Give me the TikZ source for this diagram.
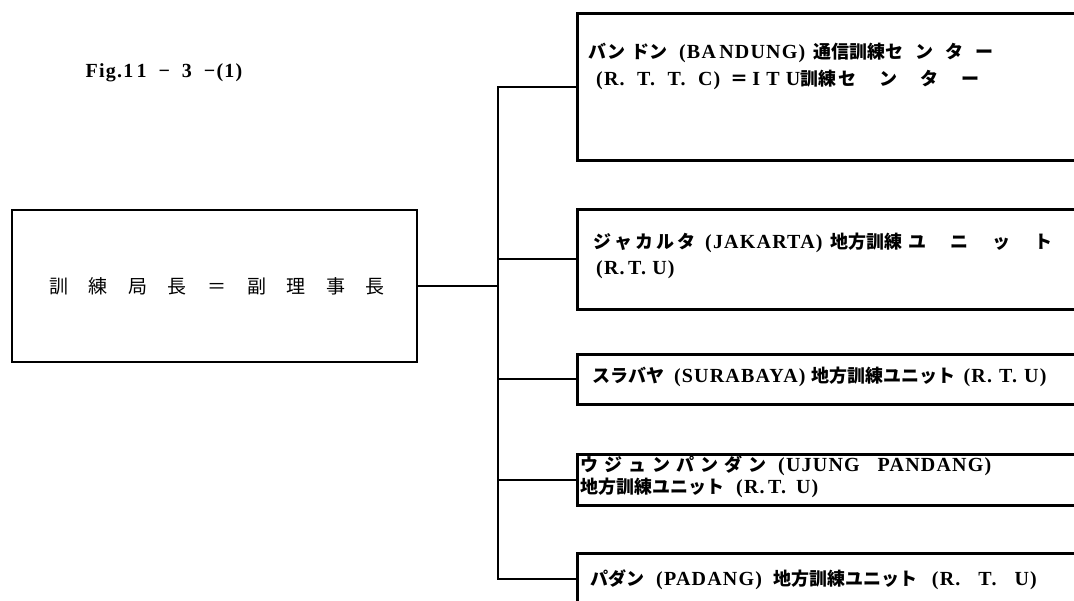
\documentclass[tikz,border=0pt]{standalone}
\usepackage{fontspec}
\setmainfont{Liberation Serif}
\newfontfamily\jp{Noto Sans CJK JP}
\newfontfamily\latf[LetterSpace=6]{Liberation Serif}
\newcommand\lat[1]{{\latf\bfseries\fontsize{20}{20}\selectfont #1}}
\newcommand\gapx{\hspace{20.6pt}}
\begin{document}
\begin{tikzpicture}[x=1pt,y=-1pt,
  box/.style={draw, line width=2.8pt, rectangle, inner sep=0pt},
  conn/.style={line width=2pt},
  txt/.style={anchor=west, inner sep=0pt, font=\jp\bfseries\fontsize{18}{20}\selectfont}]
\clip (0,0) rectangle (1074,600);
\fill[white] (0,0) rectangle (1074,600);

\node[anchor=center, inner sep=0pt, font=\latf\bfseries\fontsize{20}{22}\selectfont] (title) at (164,73) {Fig.1\,1\hspace{12pt}−\hspace{12pt}3\hspace{12pt}−(1)};

\node[box, minimum width=405pt, minimum height=152pt,
      font=\jp\fontsize{19}{22}\selectfont] (lead) at (214.5,286)
  {\hspace{5pt}訓\gapx 練\gapx 局\gapx 長\gapx ＝\gapx 副\gapx 理\gapx 事\gapx 長};

\node[box, anchor=north west, minimum width=530pt, minimum height=147pt] (b1) at (576,12) {};
\node[box, anchor=north west, minimum width=530pt, minimum height=100pt] (b2) at (576,208) {};
\node[box, anchor=north west, minimum width=530pt, minimum height=50pt] (b3) at (576,353) {};
\node[box, anchor=north west, minimum width=530pt, minimum height=51pt] (b4) at (576,453) {};
\node[box, anchor=north west, minimum width=530pt, minimum height=52pt] (b5) at (576,552) {};

\coordinate (t) at (498,286);
\draw[conn] (lead.east) -- (t);
\draw[conn] (b1.west) -| (t) |- (b5.west);
\draw[conn] (t |- b2.west) -- (b2.west);
\draw[conn] (t |- b3.west) -- (b3.west);
\draw[conn] (t |- b4.west) -- (b4.west);

\node[txt] (t1a) at (588,53) {バン\hspace{6pt}ドン\hspace{12pt}\lat{(BA\,NDUNG)}\hspace{8pt}通信訓練セ\hspace{12pt}ン\hspace{12pt}タ\hspace{12pt}ー};
\node[txt] (t1b) at (596,80) {\lat{(R.\ \ T.\ \ T.\ \ C)}\hspace{10pt}＝\hspace{4pt}\lat{I T U}訓練\hspace{2pt}セ\hspace{23pt}ン\hspace{23pt}タ\hspace{23pt}ー};
\node[txt] (t2a) at (593,243) {ジ\hspace{3pt}ャ\hspace{3pt}カ\hspace{3pt}ル\hspace{3pt}タ\hspace{10pt}\lat{(JAKARTA)}\hspace{8pt}地方訓練\hspace{6pt}ユ\hspace{24pt}ニ\hspace{24pt}ッ\hspace{24pt}ト};
\node[txt] (t2b) at (596,270) {\lat{(R.\,T.\ U)}};
\node[txt] (t3) at (592,377) {スラバヤ\hspace{10pt}\lat{(SURABAYA)}\hspace{6pt}地方訓練ユニット\hspace{8pt}\lat{(R.\hspace{7pt}T.\hspace{7pt}U)}};
\node[txt] (t4a) at (580,466) {ウ\hspace{6pt}ジ\hspace{6pt}ュ\hspace{6pt}ン\hspace{6pt}パ\hspace{6pt}ン\hspace{6pt}ダ\hspace{6pt}ン\hspace{12pt}\lat{(UJUNG\hspace{18pt}PANDANG)}};
\node[txt] (t4b) at (580,488) {地方訓練ユニット\hspace{12pt}\lat{(R.\,T.\hspace{10pt}U)}};
\node[txt] (t5) at (590,580) {パダン\hspace{12pt}\lat{(PADANG)}\hspace{12pt}地方訓練ユニット\hspace{14pt}\lat{(R.\hspace{18pt}T.\hspace{18pt}U)}};
\end{tikzpicture}
\end{document}
